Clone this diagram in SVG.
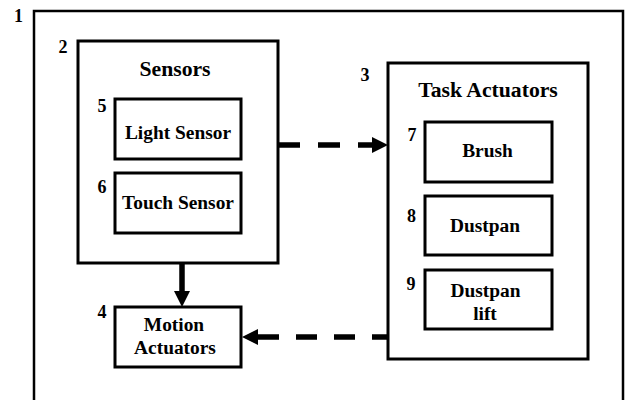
<svg xmlns="http://www.w3.org/2000/svg" width="625" height="400" viewBox="0 0 625 400">
<style>
.box{fill:#fff;stroke:#000;stroke-width:3}
.frame{fill:#fff;stroke:#000;stroke-width:2.5}
text{font-family:'Liberation Serif','Times New Roman','DejaVu Serif',serif;font-weight:700;fill:#000}
.lbl{font-size:19.4px;text-anchor:middle}
.hdr{font-size:21.7px;text-anchor:middle}
.num{font-size:18px;text-anchor:middle}
.conn{fill:none;stroke:#000;stroke-width:5.5}
</style>
<defs>
<marker id="ah" markerUnits="userSpaceOnUse" markerWidth="16" markerHeight="16" refX="0" refY="8" orient="auto" viewBox="0 0 16 16">
<path d="M0,0 L16,8 L0,16 Z" fill="#000"/>
</marker>
</defs>
<rect width="625" height="400" fill="#fff"/>
<g id="node1">
<rect class="frame" x="34" y="11" width="589" height="400"/>
<text class="num" x="18.5" y="22">1</text>
</g>
<g id="node2">
<rect class="box" x="78" y="41" width="200" height="222"/>
<text class="num" x="63" y="53">2</text>
<text class="hdr" x="175" y="76">Sensors</text>
</g>
<g id="node5">
<rect class="box" x="115" y="99" width="126" height="60"/>
<text class="num" x="102" y="112">5</text>
<text class="lbl" x="178" y="139">Light Sensor</text>
</g>
<g id="node6">
<rect class="box" x="115" y="173" width="126" height="60"/>
<text class="num" x="102" y="193">6</text>
<text class="lbl" x="178" y="209">Touch Sensor</text>
</g>
<g id="node3">
<rect class="box" x="388" y="63" width="200" height="296"/>
<text class="num" x="365" y="81">3</text>
<text class="hdr" x="488" y="97">Task Actuators</text>
</g>
<g id="node7">
<rect class="box" x="425" y="122" width="127" height="60"/>
<text class="num" x="412" y="141">7</text>
<text class="lbl" x="487.5" y="157">Brush</text>
</g>
<g id="node8">
<rect class="box" x="425" y="196" width="127" height="59"/>
<text class="num" x="411.5" y="222">8</text>
<text class="lbl" x="485" y="232">Dustpan</text>
</g>
<g id="node9">
<rect class="box" x="425" y="270" width="127" height="59"/>
<text class="num" x="411" y="290">9</text>
<text class="lbl" x="485.5" y="297">Dustpan</text>
<text class="lbl" x="485" y="320">lift</text>
</g>
<g id="node4">
<rect class="box" x="115" y="307" width="126" height="60"/>
<text class="num" x="102" y="318">4</text>
<text class="lbl" x="174" y="331">Motion</text>
<text class="lbl" x="175" y="354">Actuators</text>
</g>
<g id="connectors">
<line class="conn" x1="278" y1="145" x2="372" y2="145" stroke-dasharray="22 18" marker-end="url(#ah)"/>
<line class="conn" x1="388" y1="337" x2="258" y2="337" stroke-dasharray="21 17" stroke-dashoffset="5" marker-end="url(#ah)"/>
<line class="conn" x1="182" y1="263" x2="182" y2="291" marker-end="url(#ah)"/>
</g>
</svg>
